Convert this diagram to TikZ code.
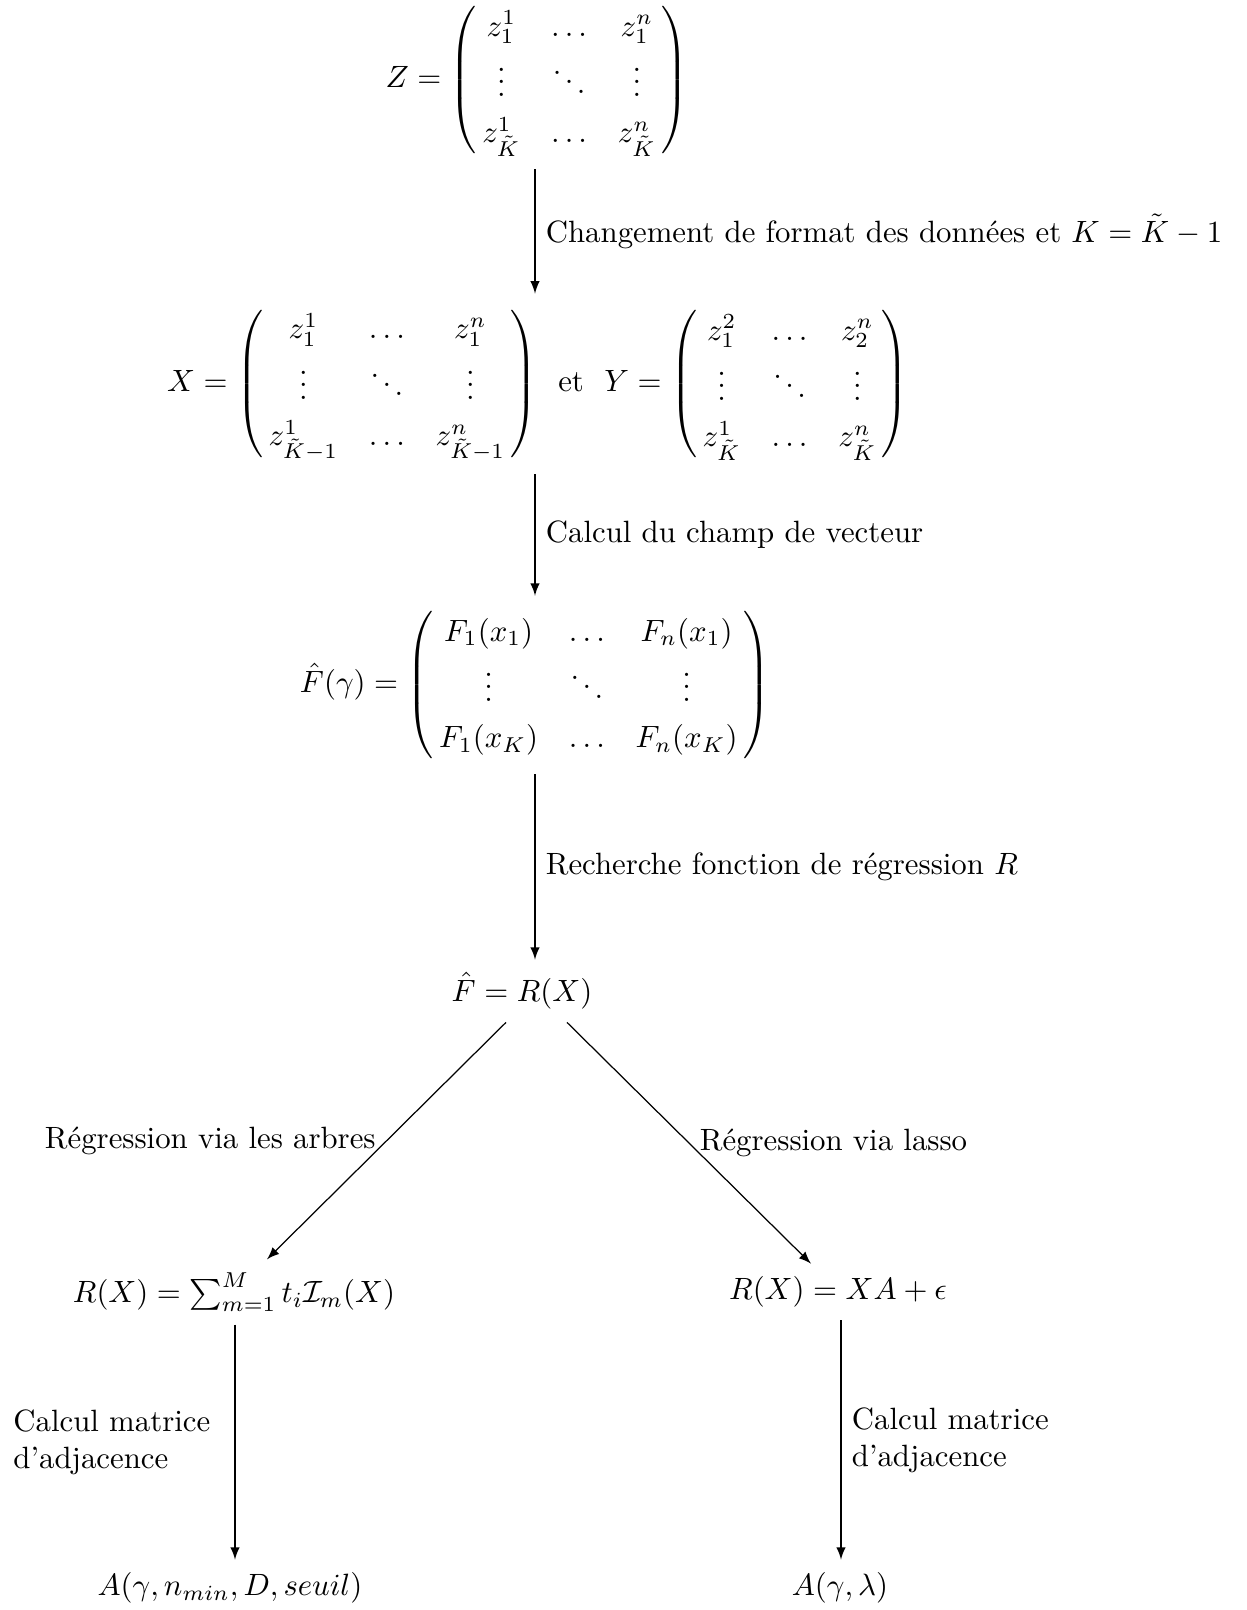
\documentclass[tikz,border=0pt]{standalone}
\usepackage{amsmath}
\usepackage{fontspec}
\renewcommand{\arraystretch}{1.25}
\newcommand{\mymat}[1]{\left(\begin{array}{@{\hspace{1.8pt}}c@{\hspace{10pt}}c@{\hspace{10pt}}c@{\hspace{1.8pt}}}#1\end{array}\right)}
\begin{document}
\begin{tikzpicture}[x=0.3247pt,y=-0.3247pt,
  mnode/.style={inner sep=4pt},
  arr/.style={-latex}]
\useasboundingbox (0,0) rectangle (1247,1610);
% columns for vertical arrows
\coordinate (colA) at (535,0);
\coordinate (colL) at (235,0);
\coordinate (colR) at (841,0);
% nodes
\node[mnode] (Z) at (537,80) {$Z = \mymat{ z_1^1 & \ldots & z_1^n \\ \vdots & \ddots & \vdots \\ z_{\tilde K}^1 & \ldots & z_{\tilde K}^n }$};
\node[mnode] (XY) at (538,384) {$X = \mymat{ z_1^1 & \ldots & z_1^n \\ \vdots & \ddots & \vdots \\ z_{\tilde K-1}^1 & \ldots & z_{\tilde K-1}^n }$ \ et \ $Y = \mymat{ z_1^2 & \ldots & z_2^n \\ \vdots & \ddots & \vdots \\ z_{\tilde K}^1 & \ldots & z_{\tilde K}^n }$};
\node[mnode] (FG) at (535,685) {$\hat F(\gamma) = \mymat{ F_1(x_1) & \ldots & F_n(x_1) \\ \vdots & \ddots & \vdots \\ F_1(x_K) & \ldots & F_n(x_K) }$};
\node[mnode] (FR) at (522,991) {$\hat F = R(X)$};
\node[mnode] (RL) at (234,1292) {$R(X) = \sum_{m=1}^{M} t_i \mathcal{I}_m(X)$};
\node[mnode] (RR) at (838,1292) {$R(X) = XA + \epsilon$};
\node[mnode] (AL) at (230,1588) {$A(\gamma, n_{min}, D, seuil)$};
\node[mnode] (AR) at (840,1588) {$A(\gamma, \lambda)$};
% connectors
\draw[arr] (Z.south -| colA) -- node[midway,right] {Changement de format des données et $K = \tilde K - 1$} (XY.north -| colA);
\draw[arr] (XY.south -| colA) -- node[midway,right] {Calcul du champ de vecteur} (FG.north -| colA);
\draw[arr] (FG.south -| colA) -- node[midway,right] {Recherche fonction de régression $R$} (FR.north -| colA);
\draw[arr] ([shift={(-16,0)}]FR.south) -- node[midway,left] {Régression via les arbres} ([shift={(33,0)}]RL.north);
\draw[arr] ([shift={(45,0)}]FR.south) -- node[midway,right] {Régression via lasso} ([shift={(-27,0)}]RR.north);
\draw[arr] (RL.south -| colL) -- node[midway,left=4.5pt,align=left] {Calcul matrice\\d'adjacence} (AL.north -| colL);
\draw[arr] (RR.south -| colR) -- node[midway,right,align=left] {Calcul matrice\\d'adjacence} (AR.north -| colR);
\end{tikzpicture}
\end{document}
